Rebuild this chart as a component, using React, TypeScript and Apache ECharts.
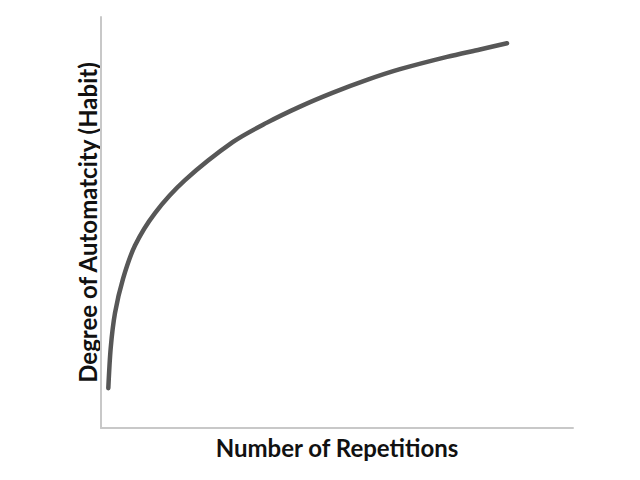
import React, { useEffect, useRef } from "react";
import * as echarts from "echarts";

const repetitions = [1.55, 2.06, 2.97, 4.66, 7.2, 11.44, 17.8, 27.97, 35.17, 42.16, 49.15, 56.36, 63.35, 73.31, 80.3, 86.02];
const automaticity = [9.7, 19.5, 28.0, 36.3, 44.4, 52.3, 60.3, 69.6, 74.3, 78.2, 81.6, 84.7, 87.3, 90.3, 92.1, 93.6];
const xName = "Number of Repetitions";
const yName = "Degree of Automatcity (Habit)";

export default function App() {
  const ref = useRef<HTMLDivElement>(null);
  useEffect(() => {
    if (!ref.current) return;
    const chart = echarts.init(ref.current, undefined, { renderer: "svg" });
    const nameStyle = { fontFamily: "Lato", fontWeight: "bold", fontSize: 24, color: "#111" };
    chart.setOption({
      animation: false,
      grid: { left: 93, right: 67, top: 9, bottom: 52 },
      xAxis: {
        type: "value",
        min: 0,
        max: 100,
        name: xName,
        nameLocation: "middle",
        nameGap: 7,
        nameTextStyle: nameStyle,
        axisLine: { show: true, lineStyle: { color: "#c8c8c8", width: 2 } },
        axisTick: { show: false },
        axisLabel: { show: false },
        splitLine: { show: false },
      },
      yAxis: {
        type: "value",
        min: 0,
        max: 100,
        name: yName,
        nameLocation: "middle",
        nameGap: 2,
        nameTextStyle: nameStyle,
        axisLine: { show: true, lineStyle: { color: "#c8c8c8", width: 2 } },
        axisTick: { show: false },
        axisLabel: { show: false },
        splitLine: { show: false },
      },
      series: [
        {
          type: "line",
          data: repetitions.map((x, i) => [x, automaticity[i]]),
          smooth: 0.3,
          showSymbol: false,
          symbol: "none",
          lineStyle: { color: "#575757", width: 4.5, cap: "round", join: "round" },
        },
      ],
    });
    return () => chart.dispose();
  }, []);
  return <div ref={ref} style={{ width: 632, height: 472 }} />;
}
